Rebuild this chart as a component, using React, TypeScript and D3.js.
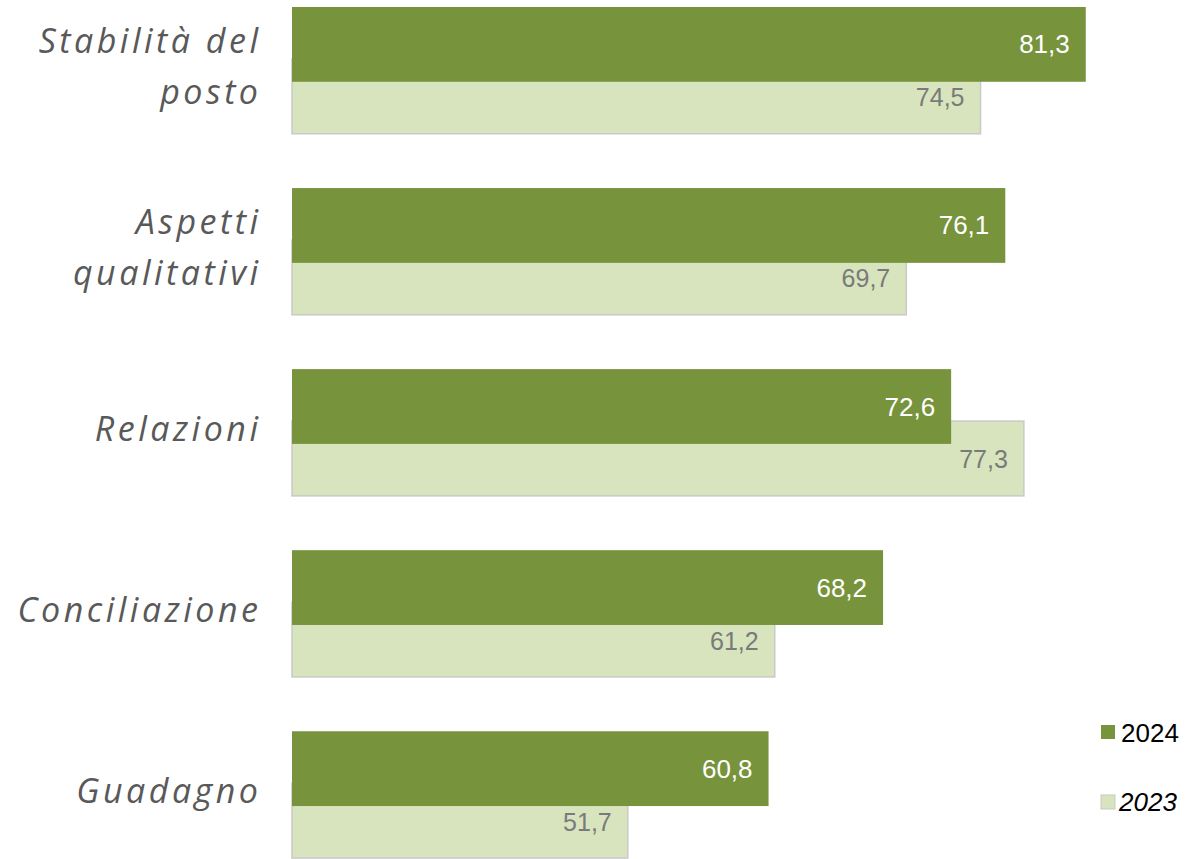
import React from "react";
import * as d3 from "d3";

const categories = ["Stabilità del\nposto", "Aspetti\nqualitativi", "Relazioni", "Conciliazione", "Guadagno"];
const values2024 = [81.3, 76.1, 72.6, 68.2, 60.8];
const values2023 = [74.5, 69.7, 77.3, 61.2, 51.7];
const seriesNames = ["2024", "2023"];
const xDomain = [30, 85];

const W = 1189;
const H = 859;

const fmt = d3
  .formatLocale({ decimal: ",", thousands: ".", grouping: [3], currency: ["", "€"] })
  .format(".1f");

const C24 = "#77933C";
const C23 = "#D7E4BD";

export default function App() {
  const x = d3.scaleLinear().domain(xDomain).range([292, 1143]);
  const y = d3.scaleBand<string>().domain(categories).range([7, 858]).paddingInner(0.3).paddingOuter(0);
  const bw = y.bandwidth();
  const barH = bw * 0.59;
  const off = bw - barH;
  const labelFont = "'Segoe Print', 'Open Sans', sans-serif";
  const numFont = "'Liberation Sans', Arial, sans-serif";
  const ls = 3.5;

  return (
    <svg
      width={W}
      height={H}
      style={{ position: "absolute", left: 0, top: 0, background: "#fff" }}
      xmlns="http://www.w3.org/2000/svg"
    >
      {categories.map((c, i) => {
        const y0 = y(c)!;
        const lines = c.split("\n");
        const cy = y0 + bw / 2;
        const lh = 51;
        return (
          <g key={c}>
            <rect
              x={x(xDomain[0])}
              y={y0 + off}
              width={x(values2023[i]) - x(xDomain[0])}
              height={barH}
              fill={C23}
              stroke="#C9C9C9"
              strokeWidth={1.5}
            />
            <rect
              x={x(xDomain[0])}
              y={y0}
              width={x(values2024[i]) - x(xDomain[0])}
              height={barH}
              fill={C24}
            />
            <text
              x={x(values2024[i]) - 16}
              y={y0 + barH / 2}
              textAnchor="end"
              dominantBaseline="central"
              fill="#fff"
              fontFamily={numFont}
              fontSize={26}
            >
              {fmt(values2024[i])}
            </text>
            <text
              x={x(values2023[i]) - 16}
              y={y0 + off + barH / 2 + 1}
              textAnchor="end"
              dominantBaseline="central"
              fill="#7A7A7A"
              fontFamily={numFont}
              fontSize={25}
            >
              {fmt(values2023[i])}
            </text>
            {lines.map((ln, j) => (
              <text
                key={j}
                x={258 + ls}
                y={lines.length === 1 ? cy - 5 : cy + (j - (lines.length - 1) / 2) * lh - 5}
                textAnchor="end"
                dominantBaseline="central"
                fill="#595959"
                fontFamily={labelFont}
                fontStyle="italic"
                fontSize={34}
                letterSpacing={ls}
              >
                {ln}
              </text>
            ))}
          </g>
        );
      })}
      <g>
        <rect x={1101} y={725} width={14} height={14} fill={C24} />
        <text x={1121} y={733} dominantBaseline="central" fontFamily={numFont} fontSize={26} fill="#000">
          {seriesNames[0]}
        </text>
        <rect x={1101} y={795} width={14} height={14} fill={C23} stroke="#C9C9C9" strokeWidth={1} />
        <text
          x={1119}
          y={802}
          dominantBaseline="central"
          fontFamily={numFont}
          fontStyle="italic"
          fontSize={26}
          fill="#000"
        >
          {seriesNames[1]}
        </text>
      </g>
    </svg>
  );
}
